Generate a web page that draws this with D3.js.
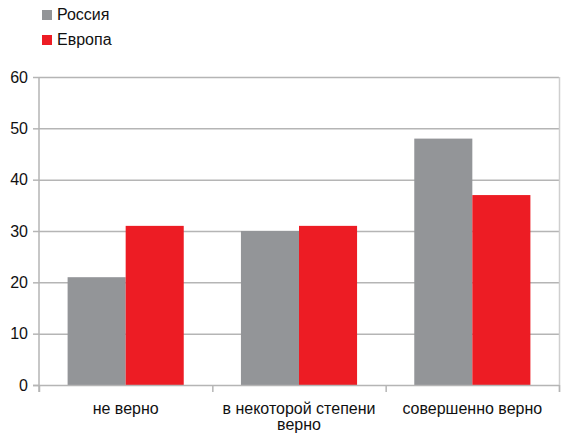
<!DOCTYPE html>
<html><head><meta charset="utf-8">
<script src="https://cdn.jsdelivr.net/npm/d3@7"></script>
<style>body{margin:0;background:#fff}svg{display:block}text{font-family:"Liberation Sans",Arial,sans-serif}</style>
</head><body><svg id="c" width="561" height="433"></svg>
<script>
const categories = [["не верно"], ["в некоторой степени", "верно"], ["совершенно верно"]];
const seriesNames = ["Россия", "Европа"];
const russia = [21, 30, 48];
const europe = [31, 31, 37];
const yTicks = [0, 10, 20, 30, 40, 50, 60];
const colors = ["#939598", "#ed1c24"];

const svg = d3.select("#c");
const m = {l: 39, r: 559, t: 77, b: 385};
const x = d3.scaleBand().domain(d3.range(categories.length)).range([m.l, m.r]).paddingInner(0.33).paddingOuter(0.165);
const xs = d3.scaleBand().domain([0, 1]).range([0, x.bandwidth()]);
const y = d3.scaleLinear().domain([0, 60]).range([m.b, m.t]);
const grid = "#b5b5b5";
const fs = 16;

// gridlines
svg.append("g").selectAll("line").data(yTicks.slice(1)).join("line")
  .attr("x1", m.l).attr("x2", m.r).attr("y1", d => y(d) + 0.5).attr("y2", d => y(d) + 0.5)
  .attr("stroke", grid).attr("stroke-width", 1.5);
// right border
svg.append("line").attr("x1", m.r + 0.5).attr("x2", m.r + 0.5).attr("y1", m.t).attr("y2", m.b + 7)
  .attr("stroke", "#cfcfcf").attr("stroke-width", 1.5);

// bars
const data = [russia, europe];
const g = svg.append("g");
data.forEach((vals, si) => {
  g.selectAll(".s" + si).data(vals).join("rect")
    .attr("x", (d, i) => x(i) + xs(si))
    .attr("width", xs.bandwidth())
    .attr("y", d => y(d))
    .attr("height", d => y(0) - y(d))
    .attr("fill", colors[si]);
});

// y axis
const ya = svg.append("g").attr("transform", `translate(${m.l},0)`)
  .call(d3.axisLeft(y).tickValues(yTicks).tickSize(6).tickPadding(5));
ya.select(".domain").attr("stroke", grid).attr("stroke-width", 1.5).attr("d", `M0,${m.t}V${m.b + 7}`);
ya.selectAll(".tick line").attr("stroke", grid).attr("stroke-width", 1.5);
ya.selectAll(".tick text").attr("font-size", fs).attr("fill", "#111").attr("font-family", '"Liberation Sans",Arial,sans-serif');

// x axis baseline and ticks
svg.append("line").attr("x1", m.l - 6).attr("x2", m.r).attr("y1", m.b + 0.5).attr("y2", m.b + 0.5)
  .attr("stroke", grid).attr("stroke-width", 1.5);
const bounds = categories.map((c, i) => x(i) - x.step() * x.paddingInner() / 2).concat([m.r]);
bounds[0] = m.l;
svg.append("g").selectAll("line").data(bounds).join("line")
  .attr("x1", d => d + 0.5).attr("x2", d => d + 0.5).attr("y1", m.b).attr("y2", m.b + 7)
  .attr("stroke", grid).attr("stroke-width", 1.5);

// category labels
svg.append("g").selectAll("text").data(categories).join("text")
  .attr("x", (d, i) => x(i) + x.bandwidth() / 2).attr("y", 414)
  .attr("text-anchor", "middle").attr("font-size", fs).attr("fill", "#111")
  .each(function(d) {
    d3.select(this).selectAll("tspan").data(d).join("tspan")
      .attr("x", d3.select(this).attr("x")).attr("dy", (t, j) => j ? 16 : 0).text(t => t);
  });

// legend
const lg = svg.append("g").selectAll("g").data(seriesNames).join("g")
  .attr("transform", (d, i) => `translate(42,${10 + i * 25})`);
lg.append("rect").attr("width", 10).attr("height", 10).attr("fill", (d, i) => colors[i]);
lg.append("text").attr("x", 15).attr("y", 10).attr("font-size", fs).attr("fill", "#111").text(d => d);
</script></body></html>
